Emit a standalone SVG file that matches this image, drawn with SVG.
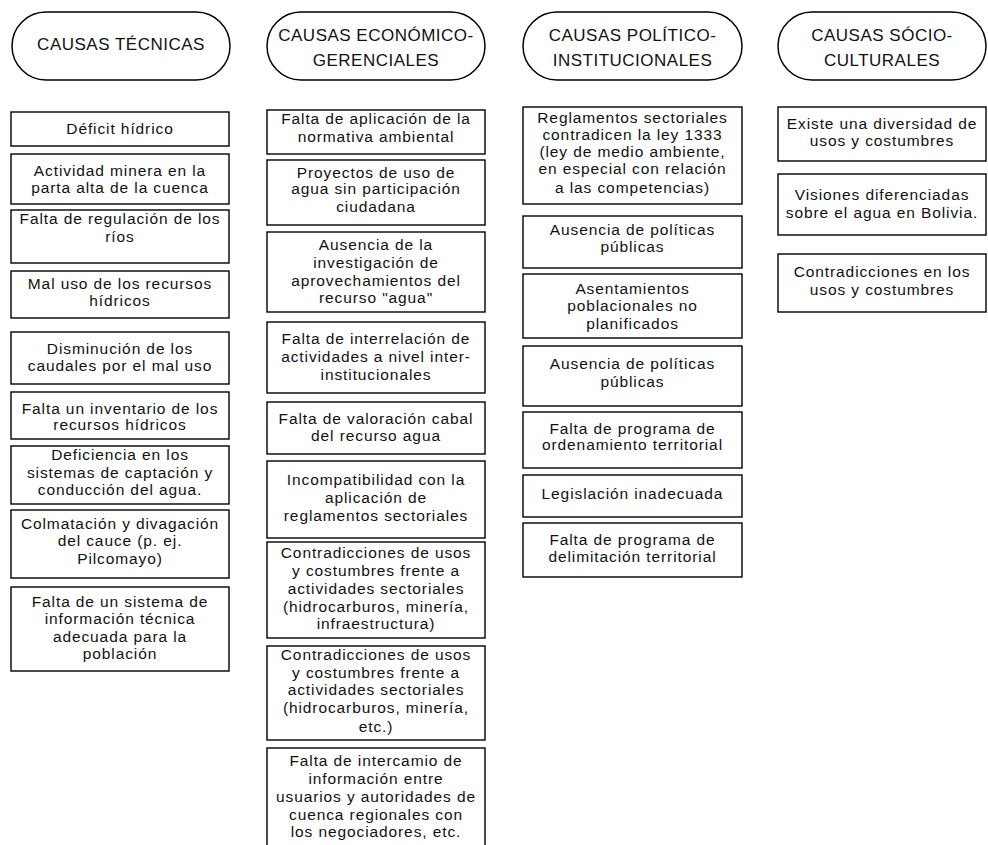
<svg xmlns="http://www.w3.org/2000/svg" width="988" height="845" viewBox="0 0 988 845">
<style>
.bg{fill:#fff}
.hdr{fill:#fff;stroke:#000;stroke-width:1.5}
.box{fill:#fff;stroke:#000;stroke-width:1.4}
.ht{font-family:"Liberation Sans",Arial,sans-serif;font-size:17px;letter-spacing:0.5px;fill:#111;text-anchor:middle}
.t{font-family:"Liberation Sans",Arial,sans-serif;font-size:15.5px;letter-spacing:0.9px;fill:#111;text-anchor:middle}
</style>
<rect class="bg" x="0" y="0" width="988" height="845"/>
<g id="connectors"/>

<!-- Column 1 -->
<g id="h1"><rect class="hdr" x="12" y="12" width="218" height="68" rx="34"/><text class="ht" x="121" y="50">CAUSAS TÉCNICAS</text></g>
<g id="c1n1"><rect class="box" x="11" y="112" width="218" height="34"/><text class="t" x="120" y="134">Déficit hídrico</text></g>
<g id="c1n2"><rect class="box" x="11" y="154" width="218" height="50"/><text class="t"><tspan x="120" y="175.5">Actividad minera en la</tspan><tspan x="120" y="192.5">parta alta de la cuenca</tspan></text></g>
<g id="c1n3"><rect class="box" x="11" y="210" width="218" height="53"/><text class="t"><tspan x="120" y="224">Falta de regulación de los</tspan><tspan x="120" y="241.5">ríos</tspan></text></g>
<g id="c1n4"><rect class="box" x="11" y="271" width="218" height="47"/><text class="t"><tspan x="120" y="288.5">Mal uso de los recursos</tspan><tspan x="120" y="305.5">hídricos</tspan></text></g>
<g id="c1n5"><rect class="box" x="11" y="332" width="218" height="52"/><text class="t"><tspan x="120" y="353.5">Disminución de los</tspan><tspan x="120" y="370.5">caudales por el mal uso</tspan></text></g>
<g id="c1n6"><rect class="box" x="11" y="392" width="218" height="47"/><text class="t"><tspan x="120" y="413.5">Falta un inventario de los</tspan><tspan x="120" y="430">recursos hídricos</tspan></text></g>
<g id="c1n7"><rect class="box" x="11" y="446" width="218" height="58"/><text class="t"><tspan x="120" y="460">Deficiencia en los</tspan><tspan x="120" y="477.5">sistemas de captación y</tspan><tspan x="120" y="495">conducción del agua.</tspan></text></g>
<g id="c1n8"><rect class="box" x="11" y="510" width="218" height="68"/><text class="t"><tspan x="120" y="528.5">Colmatación y divagación</tspan><tspan x="120" y="546">del cauce (p. ej.</tspan><tspan x="120" y="564">Pilcomayo)</tspan></text></g>
<g id="c1n9"><rect class="box" x="11" y="587" width="218" height="84"/><text class="t"><tspan x="120" y="606.5">Falta de un sistema de</tspan><tspan x="120" y="624">información técnica</tspan><tspan x="120" y="641.5">adecuada para la</tspan><tspan x="120" y="659">población</tspan></text></g>

<!-- Column 2 -->
<g id="h2"><rect class="hdr" x="267" y="12" width="218" height="68" rx="34"/><text class="ht"><tspan x="376" y="41">CAUSAS ECONÓMICO-</tspan><tspan x="376" y="66">GERENCIALES</tspan></text></g>
<g id="c2n1"><rect class="box" x="267" y="110" width="218" height="44"/><text class="t"><tspan x="376" y="124">Falta de aplicación de la</tspan><tspan x="376" y="141.5">normativa ambiental</tspan></text></g>
<g id="c2n2"><rect class="box" x="267" y="160" width="218" height="65"/><text class="t"><tspan x="376" y="177.5">Proyectos de uso de</tspan><tspan x="376" y="194">agua sin participación</tspan><tspan x="376" y="211.5">ciudadana</tspan></text></g>
<g id="c2n3"><rect class="box" x="267" y="232" width="218" height="80"/><text class="t"><tspan x="376" y="250">Ausencia de la</tspan><tspan x="376" y="267.5">investigación de</tspan><tspan x="376" y="285.5">aprovechamientos del</tspan><tspan x="376" y="303">recurso "agua"</tspan></text></g>
<g id="c2n4"><rect class="box" x="267" y="322" width="218" height="71"/><text class="t"><tspan x="376" y="344">Falta de interrelación de</tspan><tspan x="376" y="361.5">actividades a nivel inter-</tspan><tspan x="376" y="379.5">institucionales</tspan></text></g>
<g id="c2n5"><rect class="box" x="267" y="402" width="218" height="52"/><text class="t"><tspan x="376" y="423.5">Falta de valoración cabal</tspan><tspan x="376" y="441">del recurso agua</tspan></text></g>
<g id="c2n6"><rect class="box" x="267" y="461" width="218" height="77"/><text class="t"><tspan x="376" y="485">Incompatibilidad con la</tspan><tspan x="376" y="503">aplicación de</tspan><tspan x="376" y="520.5">reglamentos sectoriales</tspan></text></g>
<g id="c2n7"><rect class="box" x="267" y="542" width="218" height="96"/><text class="t"><tspan x="376" y="557.5">Contradicciones de usos</tspan><tspan x="376" y="575.5">y costumbres frente a</tspan><tspan x="376" y="593.5">actividades sectoriales</tspan><tspan x="376" y="611.5">(hidrocarburos, minería,</tspan><tspan x="376" y="629">infraestructura)</tspan></text></g>
<g id="c2n8"><rect class="box" x="267" y="646" width="218" height="94"/><text class="t"><tspan x="376" y="659.5">Contradicciones de usos</tspan><tspan x="376" y="677.5">y costumbres frente a</tspan><tspan x="376" y="695">actividades sectoriales</tspan><tspan x="376" y="713">(hidrocarburos, minería,</tspan><tspan x="376" y="731.5">etc.)</tspan></text></g>
<g id="c2n9"><rect class="box" x="267" y="748" width="218" height="104"/><text class="t"><tspan x="376" y="765.5">Falta de intercamio de</tspan><tspan x="376" y="783.5">información entre</tspan><tspan x="376" y="801.5">usuarios y autoridades de</tspan><tspan x="376" y="819.5">cuenca regionales con</tspan><tspan x="376" y="837">los negociadores, etc.</tspan></text></g>

<!-- Column 3 -->
<g id="h3"><rect class="hdr" x="523" y="12" width="219" height="68" rx="34"/><text class="ht"><tspan x="632.5" y="41">CAUSAS POLÍTICO-</tspan><tspan x="632.5" y="66">INSTITUCIONALES</tspan></text></g>
<g id="c3n1"><rect class="box" x="523" y="107" width="219" height="97"/><text class="t"><tspan x="632.5" y="122.5">Reglamentos sectoriales</tspan><tspan x="632.5" y="139.5">contradicen la ley 1333</tspan><tspan x="632.5" y="157">(ley de medio ambiente,</tspan><tspan x="632.5" y="174">en especial con relación</tspan><tspan x="632.5" y="192.5">a las competencias)</tspan></text></g>
<g id="c3n2"><rect class="box" x="523" y="216" width="219" height="52"/><text class="t"><tspan x="632.5" y="235">Ausencia de políticas</tspan><tspan x="632.5" y="251.5">públicas</tspan></text></g>
<g id="c3n3"><rect class="box" x="523" y="274" width="219" height="64"/><text class="t"><tspan x="632.5" y="293.5">Asentamientos</tspan><tspan x="632.5" y="311">poblacionales no</tspan><tspan x="632.5" y="328.5">planificados</tspan></text></g>
<g id="c3n4"><rect class="box" x="523" y="346" width="219" height="60"/><text class="t"><tspan x="632.5" y="368.5">Ausencia de políticas</tspan><tspan x="632.5" y="386.5">públicas</tspan></text></g>
<g id="c3n5"><rect class="box" x="523" y="412" width="219" height="56"/><text class="t"><tspan x="632.5" y="433.5">Falta de programa de</tspan><tspan x="632.5" y="450">ordenamiento territorial</tspan></text></g>
<g id="c3n6"><rect class="box" x="523" y="475" width="219" height="42"/><text class="t" x="632.5" y="498.5">Legislación inadecuada</text></g>
<g id="c3n7"><rect class="box" x="523" y="523" width="219" height="54"/><text class="t"><tspan x="632.5" y="545">Falta de programa de</tspan><tspan x="632.5" y="561.5">delimitación territorial</tspan></text></g>

<!-- Column 4 -->
<g id="h4"><rect class="hdr" x="778" y="12" width="208" height="68" rx="34"/><text class="ht"><tspan x="882" y="41">CAUSAS SÓCIO-</tspan><tspan x="882" y="66">CULTURALES</tspan></text></g>
<g id="c4n1"><rect class="box" x="778" y="107" width="208" height="54"/><text class="t"><tspan x="882" y="128.5">Existe una diversidad de</tspan><tspan x="882" y="145.5">usos y costumbres</tspan></text></g>
<g id="c4n2"><rect class="box" x="778" y="174" width="208" height="61"/><text class="t"><tspan x="882" y="200">Visiones diferenciadas</tspan><tspan x="882" y="217.5">sobre el agua en Bolivia.</tspan></text></g>
<g id="c4n3"><rect class="box" x="778" y="254" width="208" height="58"/><text class="t"><tspan x="882" y="276.5">Contradicciones en los</tspan><tspan x="882" y="294.5">usos y costumbres</tspan></text></g>
</svg>
